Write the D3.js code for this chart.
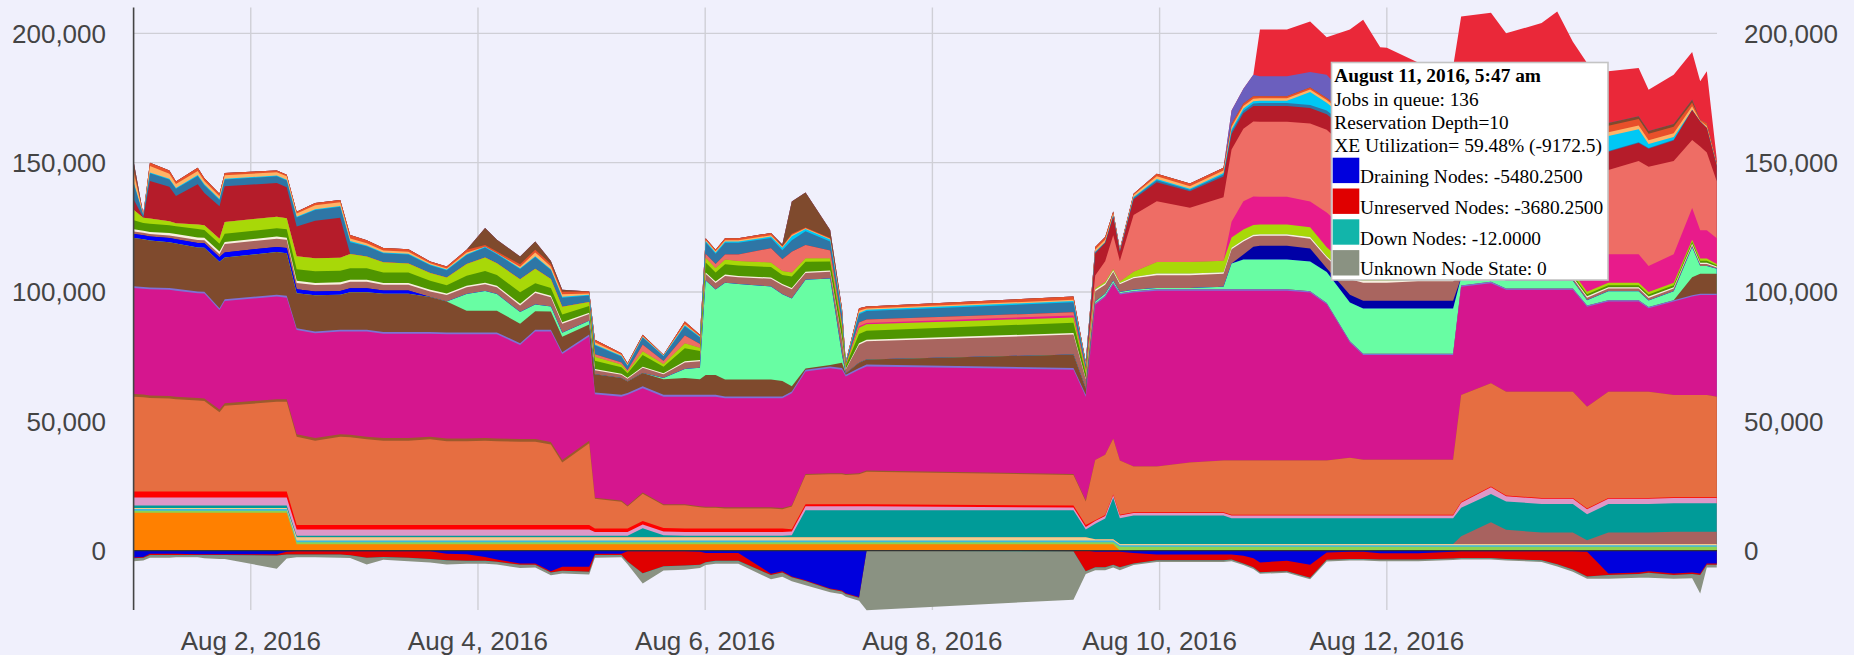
<!DOCTYPE html>
<html>
<head>
<meta charset="utf-8">
<script src="https://cdn.jsdelivr.net/npm/d3@7"></script>
<style>
html,body{margin:0;padding:0;background:#f0f0fc;}
#chart{width:1854px;height:655px;overflow:hidden;}
svg{display:block;}
</style>
</head>
<body>
<div id="chart"></div>
<script>
// ---------------- DATA (values in thousands) ----------------
// sample times, hours after Aug 1 2016 00:00
const hours = [-0.7,1.3,2.7,6.8,8.2,12.8,14.2,17.4,18.5,29.5,
31.6,33.7,37.6,42.9,45,48.5,52,57.3,61.9,65.4,
69.6,73.5,76,80.9,84.1,87.4,89.8,95.5,96.7,102.3,
103.6,106.8,111.2,115.7,118.9,120.1,122.2,124.2,127,133.9,
136.3,138.3,141.2,146.4,148.9,149.7,152.5,154.1,197.8,200.4,
202.4,204.5,206.2,207.6,210.5,215.4,222.4,229.5,231.2,233.7,
235.8,237.2,242.9,247.8,251.3,256.2,259,262.6,264,270.6,
278,279.7,286,289.2,296.7,300,303.3,306.3,310.8,317.2,
319.3,324.6,328.5,330.2,331.6,333.7];

const orange = [14.6,14.6,14.6,14.6,14.6,14.6,14.6,14.6,14.6,14.6,
14.6,2.4,2.4,2.4,2.4,2.4,2.4,2.4,2.4,2.4,
2.4,2.4,2.4,2.4,2.4,2.4,2.4,2.4,2.4,2.4,
2.4,2.4,2.4,2.4,2.4,2.4,2.4,2.4,2.4,2.4,
2.4,2.4,2.4,2.4,2.4,2.4,2.4,2.4,2.4,2.4,
2.4,2.4,2.4,0,0,0,0,0,0,0,
0,0,0,0,0,0,0,0,0,0,
0,0,0,0,0,0,0,0,0,0,
0,0,0,0,0,0];
const lime = [0.8,0.8,0.8,0.8,0.8,0.8,0.8,0.8,0.8,0.8,
0.8,0.8,0.8,0.8,0.8,0.8,0.8,0.8,0.8,0.8,
0.8,0.8,0.8,0.8,0.8,0.8,0.8,0.8,0.8,0.8,
0.8,0.8,0.8,0.8,0.8,0.8,0.8,0.8,0.8,0.8,
0.8,0.8,0.8,0.8,0.8,0.8,0.8,0.8,0.8,0.8,
0.8,0.8,0.8,1.5,1.5,1.5,1.5,1.5,1.5,1.5,
1.5,1.5,1.5,1.5,1.5,1.5,1.5,1.5,1.5,1.5,
1.5,1.5,1.5,1.5,1.5,1.5,1.5,1.5,1.5,1.5,
1.5,1.5,1.5,1.5,1.5,1.5];
const sky = [0.7,0.7,0.7,0.7,0.7,0.7,0.7,0.7,0.7,0.7,
0.7,0.7,0.7,0.7,0.7,0.7,0.7,0.7,0.7,0.7,
0.7,0.7,0.7,0.7,0.7,0.7,0.7,0.7,0.7,0.7,
0.7,0.7,0.7,0.7,0.7,0.7,0.7,0.7,0.7,0.7,
0.7,0.7,0.7,0.7,0.7,0.7,0.7,0.7,0.7,0.7,
0.7,0.7,0.7,0.5,0.5,0.5,0.5,0.5,0.5,0.5,
0.5,0.5,0.5,0.5,0.5,0.5,0.5,0.5,0.5,0.5,
0.5,0.5,0.5,0.5,0.5,0.5,0.5,0.5,0.5,0.5,
0.5,0.5,0.5,0.5,0.5,0.5];
const wheat = [0.3,0.3,0.3,0.3,0.3,0.3,0.3,0.3,0.3,0.3,
0.3,1.2,1.2,1.2,1.2,1.2,1.2,1.2,1.2,1.2,
1.2,1.2,1.2,1.2,1.2,1.2,1.2,1.2,1.2,1.2,
1.2,1.2,1.2,1.2,1.2,1.2,1.2,1.2,1.2,1.2,
1.2,1.2,1.2,1.2,1.2,1.2,1.2,1.2,1.2,1.2,
0.5,0.5,0.5,0.5,0.5,0.5,0.5,0.5,0.5,0.5,
0.5,0.5,0.5,0.5,0.5,0.5,0.5,0.5,0.5,0.5,
0.5,0.5,0.5,0.5,0.5,0.5,0.5,0.5,0.5,0.5,
0.5,0.5,0.5,0.5,0.5,0.5];
const mauveLow = [0,0,0,0,0,0,0,0,0,0,
0,0,0,0,0,0,0,0,0,0,
0,0,0,0,0,0,0,0,0,0,
0,0,0,0,0,0,0,0,0,0,
0,0,0,0,0,0,0,0,0,0,
0,0,0,0,0,0,0,0,0,0,
0,0,0,0,0,0,0,0,0,0,
0,3,8.4,5.5,4.5,4.5,4.5,1.5,4.5,4.5,
4.5,4.8,4.8,4.8,4.8,4.8];
const teal = [1,1,1,1,1,1,1,1,1,1,
1,0.6,0.6,0.6,0.6,0.6,0.6,0.6,0.6,0.6,
0.6,0.6,0.6,0.6,0.6,0.6,0.6,0.6,0.6,0.6,
0.6,3.5,0.8,0.6,0.6,0.6,0.6,0.6,0.6,0.6,
0.6,0.8,10.5,10.5,10.5,10.5,10.5,10.5,10.5,3,
6,8,16,10,11,11,11,11,10,10,
10,10,10,10,10,10,10,10,10,10,
10,11,11,11,11,11,11,10,11,11,
11,11,11,11,11,11];
const plum = [3.1,3.1,3.1,3.1,3.1,3.1,3.1,3.1,3.1,3.1,
3.1,2.4,2.4,2.4,2.4,2.4,2.4,2.4,2.4,2.4,
2.4,2.4,2.4,2.4,2.4,2.4,2.4,2.4,1.5,1.5,
1.5,1.5,1.5,1.5,1.5,1.5,1.5,1.5,1.5,1.5,
1.5,1.5,1.5,1.5,1.5,1.5,1.5,1.5,1,1,
1,1,1,1,1,1,1,1,1,1,
1,1,1,1,1,1,1,1,1,1,
1,2,2.6,2,2,2,2,2,2,2,
2,2,2,2,2,2];
const red = [2.3,2.3,2.3,2.3,2.3,2.3,2.3,2.3,2.3,2.3,
2.3,1.8,1.8,1.8,1.8,1.8,1.8,1.8,1.8,1.8,
1.8,1.8,1.8,1.8,1.8,1.8,1.8,1.8,1.3,1.3,
1.3,1.3,1.3,1.3,1.3,1.3,1.3,1.3,1.3,1.3,
1.3,0.8,0.8,0.8,0.8,0.8,0.8,0.8,0.8,0.8,
0.3,0.3,0.3,0.3,0.3,0.3,0.3,0.3,0.3,0.3,
0.3,0.3,0.3,0.3,0.3,0.3,0.3,0.3,0.3,0.3,
0.3,0.3,0.3,0.3,0.3,0.3,0.3,0.3,0.3,0.3,
0.3,0.3,0.3,0.3,0.3,0.3];
const coral = [36.7,36.5,36.2,36.0,35.7,35.2,35.0,30.7,33.2,34.7,
34.7,34.1,32.6,34.1,33.9,33.1,32.6,32.6,33.1,32.4,
32.4,32.6,32.4,32.2,32.2,31.1,24.1,31.6,11.5,10.4,
8.5,10.6,8.8,9.0,8.2,8.0,8.0,7.8,7.8,7.8,
7.5,8.8,11.3,11.6,11.6,11.3,11.6,12.6,11.8,9.1,
23.3,23.3,21.5,21.0,17.7,17.7,19.2,20.0,21.0,21.0,
21.0,21.0,21.0,21.0,21.0,22.1,21.3,21.3,21.3,21.3,
21.3,41.3,39.9,40.1,41.1,41.1,41.1,39.3,41.1,41.1,
41.1,39.5,39.5,39.5,39.5,38.9];
const tan = [1,1,1,1,1,1,1,1,1,1,
1,1,1,1,1,1,1,1,1,1,
1,1,1,1,1,1,1,1,0.4,0.4,
0.4,0.4,0.4,0.4,0.4,0.4,0.4,0.4,0.4,0.4,
0.4,0.4,0.4,0.4,0.4,0.4,0.4,0.4,0.4,0.4,
0,0,0,0,0,0,0,0,0,0,
0,0,0,0,0,0,0,0,0,0,
0,0,0,0,0,0,0,0,0,0,
0,0,0,0,0,0];
const magenta = [41.0,40.9,41.0,41.0,41.0,40.5,40.6,38.5,39.5,39.7,
39.3,40.3,40.5,39.7,39.9,40.7,40.3,40.3,39.8,40.3,
40.3,40.1,40.3,36.4,41.6,42.7,41.0,40.3,40.0,40.2,
42.8,40.4,41.6,41.6,42.4,42.6,42.6,42.2,42.2,42.2,
42.5,43.4,39.6,40.6,40.0,37.7,40.0,40.3,40.3,40.1,
60.0,61.0,59.8,64.2,67.3,68.0,66.5,65.7,65.7,65.7,
65.7,65.7,65.7,65.0,60.4,44.5,40.5,40.5,40.5,40.5,
40.5,41.9,38.7,39.4,39.4,39.4,39.4,38.7,34.9,34.9,
32.3,36.2,38.1,38.7,38.7,39.3];
const slate = [0.7,0.7,0.7,0.7,0.7,0.7,0.7,0.7,0.7,0.7,
0.7,0.7,0.7,0.7,0.7,0.7,0.7,0.7,0.7,0.7,
0.7,0.7,0.7,0.7,0.7,0.7,0.7,0.7,0.7,0.7,
0.7,0.7,0.7,0.7,0.7,0.7,0.7,0.7,0.7,0.7,
0.7,0.7,0.7,0.7,0.7,0.7,0.7,0.7,0.7,0.7,
0.5,0.5,0.5,0.5,0.5,0.5,0.5,0.5,0.5,0.5,
0.5,0.5,0.5,0.5,0.5,0.5,0.5,0.5,0.5,0.5,
0.5,0.5,0.5,0.5,0.5,0.5,0.5,0.5,0.5,0.5,
0.5,0.5,0.5,0.5,0.5,0.5];
const brown = [18.7,18.5,18.2,17.7,17.5,17.0,17.0,18.0,16.1,16.5,
16.5,13.5,14.0,13.5,14.5,14.5,14.8,14.8,13.5,12.0,
8.4,8.4,8.4,7.5,7.1,7.0,6.0,3.9,7.1,6.5,
4.5,5.2,6.0,6.5,6.0,7.7,7.7,6.5,6.5,6.5,
6.0,2.0,0.5,0.5,2.0,0.5,2.0,2.0,5.2,2.5,
0,0,0,0,0,0,0,0,0,0,
0,0,0,0,0,0,0,0,0,0,
0,0,0,0,0,0,0,0,0,0,
0,0,7.0,7.7,7.7,7.7];
const mint = [0,0,0,0,0,0,0,0,0,0,
0,0,0,0,0,0,0,0,0,0,
6.5,7.7,6.5,4.5,2.6,2.0,1.5,1.5,0,0,
0,0,0.5,3.5,4.5,36.5,33.0,37.5,37.0,36.0,
33.5,34.0,34.3,33.5,3.0,0,0,0,0,0,
0.8,0.8,0.8,0.5,0.5,0.5,0.5,1.0,10.0,11.5,
11.5,11.5,11.5,11.5,12.0,15.0,17.5,17.5,17.5,17.5,
17.5,3.0,3.0,3.0,3.0,3.0,3.0,2.0,3.5,3.5,
2.5,3.5,11.6,3.0,3.0,2.0];
const blue = [1.5,1.5,1.5,1.7,1.7,1.7,1.7,1.7,2.0,2.0,
2.0,1.5,1.5,1.5,1.5,1.5,1.3,1.3,0,0,
0,0,0,0,0,0,0,0,0,0,
0,0,0,0,0,0,0,0,0,0,
0,0,0,0,0,0,0,0,0,0,
0,0,0,0,0,0,0,0,0,0,
0,0,0,0,0,0,0,0,0,0,
0,0,0,0,0,0,0,0,0,0,
0,0,0,0,0,0];
const navy = [0,0,0,0,0,0,0,0,0,0,
0,0,0,0,0,0,0,0,0,0,
0,0,0,0,0,0,0,0,0,0,
0,0,0,0,0,0,0,0,0,0,
0,0,0,0,0,0,0,0,0,0,
0,0,0,0,0,0,0,0,0,2,
5,5.4,5.4,5,1.5,3,3,3,3,3,
3,0,0,0,0,0,0,0,0,0,
0,0,0,0,0,0];
const rosy = [1.0,1.0,1.0,0.9,1.0,1.2,1.2,1.2,3.2,3.2,
3.2,2.5,2.5,2.5,2.5,2.5,2.2,2.2,2.2,2.5,
2.6,2.6,2.6,2.6,4.5,3.5,3.5,2.6,1.5,1.3,
1.0,2.0,1.5,2.5,2.5,2.6,2.6,2.6,2.6,3.0,
3.5,3.5,2.6,2.6,6.0,1.5,7.0,7.0,7.7,3.5,
4.0,3.5,3.5,3.0,4.5,5.0,5.0,5.0,5.5,5.0,
4.0,3.8,3.8,3.8,4.0,6.0,7.0,7.0,7.0,7.5,
7.5,1,1,1,1,1,1,1,1,1,
1,1,0.8,0.8,0.8,0.5];
const ivory = [0.8,0.8,0.8,1,1,1,1,1,0.8,0.8,
0.8,0.8,0.8,0.8,0.8,0.8,0.7,0.7,0.6,0.6,
0.6,0.6,0.6,0.6,0.6,0.6,0.6,0.5,0.5,0.4,
0.4,0.4,0.4,0.5,0.5,0.5,0.5,0.5,0.5,0.5,
0.5,0.5,0.5,0.5,0.5,0.2,0.6,0.6,0.6,0.3,
0.6,0.6,0.6,0.5,0.5,0.6,0.6,0.6,0.6,0.6,
0.6,0.6,0.6,0.6,0.6,0.6,0.6,0.6,0.6,0.6,
0.6,0.5,0.5,0.5,0.5,0.5,0.5,0.5,0.5,0.5,
0.5,0.5,0.5,0.5,0.5,0.3];
const dgreen = [3.5,3.0,3.2,3.0,3.0,3.2,3.0,3.0,3.2,3.2,
3.2,4.5,4.5,4.5,4.5,4.5,4.0,4.0,3.5,3.2,
3.9,4.5,4.2,4.5,3.2,3.0,3.0,2.6,3.2,2.5,
1.8,4.5,2.5,5.0,3.5,3.9,3.5,4.0,4.0,4.0,
3.5,4.5,3.9,3.5,3.5,1.2,3.5,3.5,4.0,2.0,
0,0,0,0,0,0,0,0,0,0,
0,0,0,0,0,0,0,0,0,0,
0,0.8,0.8,0.8,0.8,0.8,0.8,0.8,0.8,0.8,
0.8,0.8,0.8,0.8,0.8,0.5];
const ygreen = [4.0,2.0,2.0,1.5,1.2,1.8,1.8,2.0,4.5,4.5,
4.3,5.0,5.0,5.0,5.5,4.5,4.0,3.5,3.0,3.0,
4.5,5.2,4.5,5.0,5.6,3.5,3.0,1.5,1.5,1.0,
0.6,1.5,1.0,2.0,1.2,1.8,1.8,1.8,1.8,1.8,
1.5,1.5,1.3,1.2,1.5,0.3,2.5,2.5,2.0,1.0,
0.5,0.5,0.5,0.5,2.0,4.5,4.5,4.5,4.0,4.0,
3.8,3.8,3.8,3.8,3.5,4.0,4.0,4.0,4.0,4.0,
4.0,1,1,1,1,1,1,1,1,1,
1,1,0.8,0.8,0.8,0.5];
const hotpink = [0,0,0,0,0,0,0,0,0,0,
0,0,0,0,0,0,0,0,0,0,
0,0,0,0,0,0,0,0,0,0,
0,0,0,0,0,0,0,0,0,0,
0,0,0,0,0,0,0.5,0.5,0.8,0.3,
0,0,0,0,0,0,0,0,6.0,11.0,
11.0,10.7,10.7,10.0,13.4,13.0,13.0,13.0,13.0,12.0,
12.0,11,11,11,11,11,11,11,11,11,
10,11,12.3,11,11,10];
const salmon = [0,0,0,0,0,0,0,0,0,0,
0,0,0,0,0,0,0,0,0,0,
0,0,0,0,0,0,0,0,1.0,0.8,
0.5,2.5,1.2,3.0,1.5,1.5,1.5,2.0,2.5,5.5,
4.5,8.0,5.2,3.0,0.8,0,1.5,1.3,1.2,0.5,
5,8,13,8,22,23.5,21,24.5,28,28,
29,29,29,30.1,32,32,33,33,33,33,
33,33,33,33,33,33,33,33,32.6,36,
38.4,36,26.3,32.3,30,22];
const darkred = [4.0,0,14.5,13.4,10.5,15.5,12.5,12.5,13.9,13.0,
12.0,11.5,14.5,15.5,0,0,0,0,0,0,
0,0,0,0,0,0,0,0,0,0,
0,0,0,0,0,0,0,0,0,0,
0,0,0,0,0,0,0,0,0,0,
8.5,7.0,7.2,3.5,6.0,7.3,6.3,8.0,6.0,6.0,
6.0,6.1,6.1,6.0,6.0,7,7,7,7,7,
7,7,7,7,7,7,7,7,7,7,
7,8,11.6,9.7,9.5,6];
const steel = [6.0,1.0,3.0,2.8,2.8,3.2,3.0,2.5,2.6,2.6,
2.6,3.5,4.2,4.2,4.5,4.0,3.5,3.5,3.0,2.8,
3.5,3.9,3.5,4.0,4.5,3.5,3.5,2.5,3.5,2.3,
1.7,2.8,1.8,3.5,2.5,4.5,4.0,4.5,4.5,4.0,
3.5,4.5,5.3,3.5,3.5,0.8,3.2,3.3,3.9,1.5,
0.5,0.3,0.5,0.3,0.6,0.8,0.6,0.8,1.0,1.0,
1.0,1.2,1.2,1.2,1.5,1.5,1.5,1.5,1.5,1.5,
1.5,0.5,0.5,0.5,0.5,0.5,0.5,0.5,0.3,0.3,
0.3,0.3,0,0,0,0];
const cyan = [0.5,0,0.3,0.3,0.3,0.4,0.3,0.3,0.3,0.3,
0.3,0.3,0.3,0.3,0.5,0.3,0.3,0.3,0.3,0.3,
0.3,0.3,0.3,0.3,0.3,0.3,0.3,0.3,0.3,0.3,
0.2,0.2,0.2,0.4,0.3,0.5,0.5,0.5,0.5,0.5,
1.0,1.5,0.8,0.8,0.5,0.1,0.5,0.5,0.5,0.3,
0,0,0,0,0.3,0.5,0.4,0.6,0.8,0.8,
0.8,0.8,0.8,5.0,3.0,3.0,3.0,3.0,3.0,3.0,
3.0,2,2,2,2,2,2,2,5.8,5.0,
1.5,1.0,0,0,0,0];
const peach = [3.7,0.3,2.5,1.9,1.5,1.6,1.3,1.1,1.3,1.3,
1.3,1.2,1.5,1.5,1.0,0.8,0.7,0.7,0.5,0.4,
0.7,0,0,0.5,1.5,1.0,1.0,0.5,0.8,0.4,
0.3,0.3,0.2,0.5,0.2,0.4,0.4,0.5,0.5,0.5,
0.4,0.5,0.3,0.3,0.8,0.2,0.8,0.5,0.5,0.3,
1.0,1.0,0.8,0.5,0.8,1.0,1.0,1.0,1.0,1.0,
1.0,1.0,1.0,1.0,1.0,1.2,1.2,1.2,1.2,1.2,
1.2,1.9,1.9,1.9,1.9,1.9,1.9,1.9,1.5,1.5,
1.5,1.5,1.4,0.3,0.8,0.5];
const orangered = [1.5,0,1.3,1.3,1.0,1.2,1.1,1.0,0.9,0.7,
0.6,0.7,0.9,0.9,1.3,1.2,1.0,1.0,0.7,0.7,
1.0,0.7,0.7,1.0,1.0,1.0,1.0,0.8,1.0,0.6,
0.5,0.5,0.2,1.0,0.5,0.7,0.6,0.8,0.8,0.9,
0.3,0.5,0.3,0.3,1.0,0.2,1.0,0.8,1.2,0.6,
1.0,1.0,0.7,0.3,0.5,1.0,1.0,1.0,1.0,1.0,
1.0,0.8,0.8,0.8,0.8,1.0,1.0,1.0,1.0,1.0,
1.0,2.5,2.5,2.5,2.5,2.5,2.5,2.5,2.5,2.5,
2.5,2.5,1.5,0.4,1.1,0.7];
const brownTop = [2.6,0,0,0,0,0,0,0,0,0,
0,0,0,0,0,0,0,0,0,0,
0,6.5,4.6,3.0,3.2,1.2,0.7,0,0,0,
0,0,0,0,0,0,0,0,0,0,
0.5,12.5,13.6,3.1,0,0,0,0,0,0,
0,0,0,0,0,0,0,0,0,0,
0,0,0,0,0,0,0,0,0,0,
0,1,1,1,1,1,1,1,1,1,
1,1,1,0,0,0];
const slateTop = [0,0,0,0,0,0,0,0,0,0,
0,0,0,0,0,0,0,0,0,0,
0,0,0,0,0,0,0,0,0,0,
0,0,0,0,0,0,0,0,0,0,
0,0,0,0,0,0,0,0,0,0,
0,0,0,0,0,0,0,0,5.3,5.7,
8.3,7.7,7.7,6.0,9.0,6.0,4.0,2.0,0,0,
0,0,0,0,0,0,0,0,0,0,
0,0,0,0,0,0];
const crimson = [0,0,0,0,0,0,0,0,0,0,
0,0,0,0,0,0,0,0,0,0,
0,0,0,0,0,0,0,0,0,0,
0,0,0,0,0,0,0,0,0,0,
0,0,0,0,0,0,0,0,0,0,
0,0,0,0,0,0,0,0,0,0,
0,18.1,18.1,19.5,14.5,27.3,33.4,24.7,26.5,21.3,
19.7,38.8,38.9,33.5,37.5,42.0,30.3,29.5,20.0,18.7,
16.0,19.1,18.5,14.9,20.0,1.5];

// negative series (node states)
const draining = [-2.7,-2.5,-1.2,-1.2,-1.2,-1.4,-1.4,-1.4,-1.4,-1.4,
-0.5,-0.3,-0.3,-0.3,-0.3,-0.3,-0.3,-0.3,-0.3,-1.2,
-1.4,-2.5,-3.5,-5.0,-5.0,-8.0,-6.3,-6.3,-1.2,-1.2,
-0.3,-0.3,-0.3,-0.3,-0.5,-1.0,-1.0,-1.0,-1.0,-9.0,
-8.0,-10.0,-11.5,-14.7,-15.5,-16.5,-18.0,0,0,0,
-0.5,-0.5,-0.5,-0.5,-1.0,-1.5,-1.5,-1.5,-1.5,-2.0,
-3.0,-4.6,-4.0,-5.5,-0.8,-0.5,-0.5,-1.1,-1.1,-1.1,
-0.5,-0.3,-0.3,-0.3,-0.3,-0.3,-0.3,-0.5,-8.9,-8.5,
-8.0,-8.9,-8.5,-8.9,-5.0,-5.0];
const unreserved = [-0.3,-0.3,-0.5,-0.5,-0.5,-0.3,-0.3,-0.3,-0.3,-0.5,
-1.0,-1.2,-1.2,-1.2,-1.5,-2.5,-2.2,-2.5,-3.0,-2.6,
-2.6,-1.5,-0.8,-0.5,-0.5,-0.5,-1.5,-1.9,-0.5,-0.5,
-3.9,-8.5,-5.8,-5.5,-5.0,-3.5,-3.0,-3.0,-3.0,-0.5,
-0.5,-0.3,-0.3,-0.3,-0.3,-0.3,-0.3,0,-0.3,-8.0,
-6.0,-6.0,-5.0,-6.0,-4.0,-2.3,-2.3,-2.3,-2.0,-3.0,
-3.5,-3.8,-4.0,-5.0,-2.8,-2.8,-2.8,-2.4,-2.4,-2.4,
-2.6,-2.6,-2.6,-3.0,-3.5,-5.0,-7.0,-9.5,-0.6,-0.6,
-0.6,-0.6,-0.6,-0.6,-0.5,-0.5];
const down = [-0.1,-0.1,-0.1,-0.1,-0.1,-0.1,-0.1,-0.1,-0.1,-0.1,
-0.1,-0.1,-0.1,-0.1,-0.1,-0.1,-0.1,-0.1,-0.1,-0.1,
-0.1,-0.1,-0.1,-0.1,-0.1,-0.1,-0.1,-0.1,-0.1,-0.1,
-0.1,-0.1,-0.1,-0.1,-0.1,-0.1,-0.1,-0.1,-0.1,-0.1,
-0.1,-0.1,-0.1,-0.1,-0.1,-0.1,-0.1,-0.1,-0.1,-0.1,
-0.1,-0.1,-0.1,-0.1,-0.1,-0.1,-0.1,-0.1,-0.1,-0.1,
-0.1,-0.1,-0.1,-0.1,-0.1,-0.1,-0.1,-0.1,-0.1,-0.1,
-0.1,-0.1,-0.1,-0.1,-0.1,-0.1,-0.1,-0.1,-0.1,-0.1,
-0.1,-0.1,-0.1,-0.1,-0.1,-0.1];
const unknown = [-1.0,-1.0,-1.0,-1.0,-0.8,-0.8,-1.2,-1.5,-1.5,-5.0,
-1.5,-1.0,-1.0,-1.2,-1.0,-2.5,-1.0,-1.2,-1.2,-1.5,
-1.0,-1.0,-1.0,-1.2,-1.0,-1.0,-1.0,-1.0,-1.0,-0.8,
-1.0,-3.9,-1.5,-1.5,-1.2,-1.0,-1.0,-1.0,-1.0,-1.5,
-1.5,-1.5,-1.5,-1.0,-1.0,-1.0,-1.0,-23.0,-18.6,-1.0,
-1.0,-1.0,-1.0,-1.0,-0.5,-0.5,-0.5,-0.5,-0.5,-0.5,
-0.5,-0.5,-0.5,-0.5,-0.5,-0.5,-0.5,-0.5,-0.5,-0.5,
-0.5,-0.5,-0.5,-0.5,-0.5,-0.8,-0.8,-0.8,-1.3,-1.3,
-1.8,-1.3,-1.5,-7.0,-1.0,-1.0];

const yTicks = [0, 50000, 100000, 150000, 200000];
const xTickDays = [2, 4, 6, 8, 10, 12]; // August 2016

const tooltipLines = ["August 11, 2016, 5:47 am", "Jobs in queue: 136", "Reservation Depth=10", "XE Utilization= 59.48% (-9172.5)"];
const tooltipLegend = ["Draining Nodes: -5480.2500", "Unreserved Nodes: -3680.2500", "Down Nodes: -12.0000", "Unknown Node State: 0"];

// ---------------- STYLE ----------------
const posSeries = {orange, lime, sky, wheat, mauveLow, teal, plum, red, coral, tan, magenta, slate,
  brown, mint, blue, navy, rosy, ivory, dgreen, ygreen, hotpink, salmon, darkred, steel, cyan,
  peach, orangered, brownTop, slateTop, crimson};
const negSeries = {draining, unreserved, down, unknown};
const colors = {
  orange:"#ff8000", lime:"#8fd24f", sky:"#3fb8e0", wheat:"#f2cd8e", mauveLow:"#a8625f",
  teal:"#009b98", plum:"#dd98c8", red:"#ff0000", coral:"#e66e41", tan:"#9c5a2c",
  magenta:"#d5168e", slate:"#7d72d6", brown:"#7f4a2d", mint:"#68fda3", blue:"#0000ff",
  navy:"#0000a6", rosy:"#a9655f", ivory:"#f8f0e0", dgreen:"#4f9500", ygreen:"#a8d808",
  hotpink:"#e81b8b", salmon:"#ee6d65", darkred:"#b51c2a", steel:"#2e76a6", cyan:"#00c8f5",
  peach:"#ffb467", orangered:"#e8502a", brownTop:"#7f4a2d", slateTop:"#6b5fbe", crimson:"#ea2839",
  draining:"#0000dd", unreserved:"#e00000", down:"#12b5aa", unknown:"#8a9282"
};
// rendered widths of the tooltip text lines (layout)
const tipLineWidths = [206.7, 144.4, 174.3, 267.7];
const tipLegendWidths = [222.7, 243.3, 181, 186.7];

// sanity check
const bad = Object.entries({...posSeries, ...negSeries}).filter(([k,v]) => v.length !== hours.length);
if (bad.length) throw new Error("Length mismatch: " + bad.map(([k,v]) => k + "=" + v.length).join(", "));

// ---------------- CHART ----------------
const W = 1854, H = 655;
const P = {left:133.6, right:1717, top:7.5, bottom:610};
const t0 = new Date(2016, 7, 1, 0, 0, 0);
const toDate = h => new Date(t0.getTime() + h * 3600e3);

const posKeys = Object.keys(posSeries), negKeys = Object.keys(negSeries);
const rows = hours.map((h, i) => {
  const r = {date: toDate(h)};
  posKeys.forEach(k => r[k] = posSeries[k][i] * 1000);
  negKeys.forEach(k => r[k] = negSeries[k][i] * 1000);
  return r;
});

const x = d3.scaleTime().domain([toDate(-0.75), toDate(333.75)]).range([P.left, P.right]);
const y = d3.scaleLinear().domain([-23000, 210000]).range([P.bottom, P.top]);

const svg = d3.select("#chart").append("svg").attr("width", W).attr("height", H);
svg.append("rect").attr("width", W).attr("height", H).attr("fill", "#f0f0fc");

const fmt = d3.format(",");
const tickDates = xTickDays.map(d => new Date(2016, 7, d));
const tfmt = d3.timeFormat("%b %-d, %Y");

// gridlines
const grid = svg.append("g").attr("stroke", "#cfcfd6").attr("stroke-width", 1.4);
grid.selectAll("line.h").data(yTicks.filter(v => v !== 0)).join("line")
  .attr("x1", P.left).attr("x2", P.right).attr("y1", d => y(d)).attr("y2", d => y(d));
grid.selectAll("line.v").data(tickDates).join("line")
  .attr("x1", d => x(d)).attr("x2", d => x(d)).attr("y1", P.top).attr("y2", P.bottom);

// stacks
const posStack = d3.stack().keys(posKeys)(rows);
const negStack = d3.stack().keys(negKeys)(rows);
const area = d3.area().x(d => x(d.data.date)).y0(y(0)).y1(d => y(d[1]));

const g = svg.append("g");
// paint cumulative areas from outermost to innermost so no seams appear
g.selectAll("path.pos").data(posStack.slice().reverse()).join("path")
  .attr("d", area).attr("fill", d => colors[d.key]);
g.selectAll("path.neg").data(negStack.slice().reverse()).join("path")
  .attr("d", area).attr("fill", d => colors[d.key]);

// baseline and axis line
svg.append("line").attr("x1", P.left).attr("x2", P.right).attr("y1", y(0)).attr("y2", y(0))
  .attr("stroke", "#333").attr("stroke-width", 1.3);
svg.append("line").attr("x1", P.left).attr("x2", P.left).attr("y1", P.top).attr("y2", P.bottom)
  .attr("stroke", "#444").attr("stroke-width", 1.6);

// axis labels
const lab = svg.append("g").attr("font-family", "'Liberation Sans', Arial, Helvetica, sans-serif")
  .attr("font-size", 26).attr("fill", "#444");
lab.selectAll("text.yl").data(yTicks).join("text")
  .attr("x", 106).attr("y", d => y(d)).attr("dy", "0.36em").attr("text-anchor", "end").text(d => fmt(d));
lab.selectAll("text.yr").data(yTicks).join("text")
  .attr("x", 1744).attr("y", d => y(d)).attr("dy", "0.36em").attr("text-anchor", "start").text(d => fmt(d));
lab.selectAll("text.xl").data(tickDates).join("text")
  .attr("x", d => x(d)).attr("y", 649.5).attr("text-anchor", "middle").text(d => tfmt(d));

// tooltip
const tip = svg.append("g").attr("font-family", "'Liberation Serif', 'Times New Roman', serif")
  .attr("font-size", 19.2).attr("fill", "#000");
tip.append("rect").attr("x", 1331.5).attr("y", 62.5).attr("width", 276.5).attr("height", 217.5)
  .attr("fill", "#fff").attr("stroke", "#c4c4c4").attr("stroke-width", 1.6);
tip.selectAll("text.l").data(tooltipLines).join("text")
  .attr("x", 1334.3).attr("y", (d, i) => 82.3 + i * 23.23)
  .attr("textLength", (d, i) => tipLineWidths[i]).attr("lengthAdjust", "spacingAndGlyphs")
  .attr("font-weight", (d, i) => i === 0 ? "bold" : "normal").text(d => d);
const legKeys = ["draining", "unreserved", "down", "unknown"];
tip.selectAll("rect.sw").data(tooltipLegend).join("rect")
  .attr("x", 1332.7).attr("y", (d, i) => 157.7 + i * 30.8).attr("width", 26.6).attr("height", 25.4)
  .attr("fill", (d, i) => colors[legKeys[i]]);
tip.selectAll("text.lg").data(tooltipLegend).join("text")
  .attr("x", 1360).attr("y", (d, i) => 182.9 + i * 30.8)
  .attr("textLength", (d, i) => tipLegendWidths[i]).attr("lengthAdjust", "spacingAndGlyphs")
  .text(d => d);
</script>
</body>
</html>
